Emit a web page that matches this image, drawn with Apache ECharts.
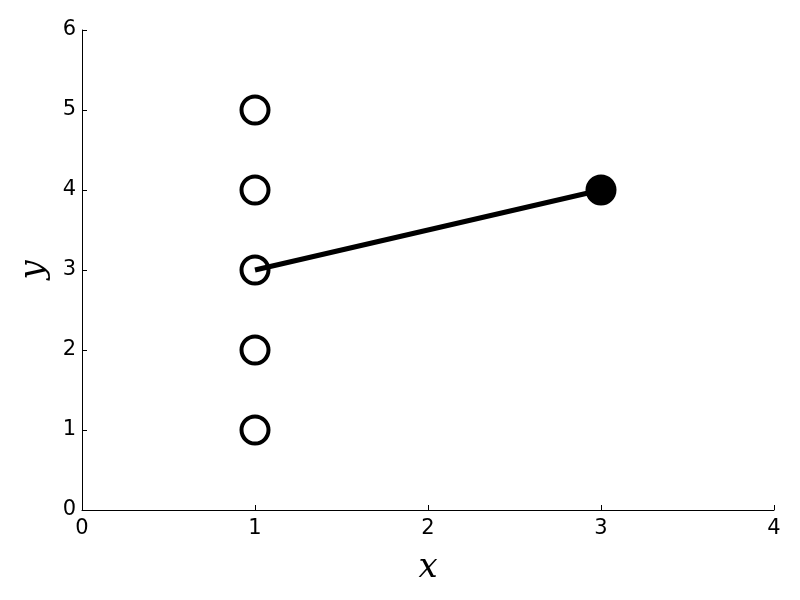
<!DOCTYPE html>
<html><head><meta charset="utf-8">
<script src="https://cdn.jsdelivr.net/npm/echarts@6/dist/echarts.min.js"></script>
<style>html,body{margin:0;padding:0;background:#fff}#c{width:800px;height:600px}</style>
</head><body><div id="c"></div>
<script>
var openX = [1, 1, 1, 1, 1];
var openY = [1, 2, 3, 4, 5];
var lineX = [1, 3];
var lineY = [3, 4];
var filledX = [3];
var filledY = [4];
var xTicks = [0, 1, 2, 3, 4];
var yTicks = [0, 1, 2, 3, 4, 5, 6];

function pairs(xs, ys) { return xs.map(function (x, i) { return [x, ys[i]]; }); }

var chart = echarts.init(document.getElementById('c'), null, {renderer: 'canvas'});
var axisCommon = {
  axisLine: {show: true, lineStyle: {color: '#000', width: 1}},
  axisTick: {show: true, inside: true, length: 5, lineStyle: {color: '#000'}},
  splitLine: {show: false},
  axisLabel: {color: '#000', fontSize: 21, fontFamily: 'DejaVu Sans'},
  nameTextStyle: {color: '#000', fontSize: 34, fontStyle: 'italic', fontFamily: 'DejaVu Serif'}
};
chart.setOption({
  animation: false,
  grid: {left: 82, right: 26, top: 30, bottom: 90, containLabel: false, outerBoundsMode: 'none'},
  xAxis: Object.assign({}, axisCommon, {
    type: 'value', min: xTicks[0], max: xTicks[xTicks.length - 1], interval: 1,
    name: 'x', nameLocation: 'middle', nameGap: 41,
    axisLabel: Object.assign({}, axisCommon.axisLabel, {margin: 8})
  }),
  yAxis: Object.assign({}, axisCommon, {
    type: 'value', min: yTicks[0], max: yTicks[yTicks.length - 1], interval: 1,
    name: 'y', nameLocation: 'middle', nameGap: 31, nameRotate: 90,
    axisLabel: Object.assign({}, axisCommon.axisLabel, {margin: 6})
  }),
  series: [
    {type: 'scatter', data: pairs(openX, openY), symbol: 'circle', symbolSize: 27,
     itemStyle: {color: '#fff', borderColor: '#000', borderWidth: 4, opacity: 1}, z: 2},
    {type: 'line', data: pairs(lineX, lineY), showSymbol: false, symbol: 'none',
     lineStyle: {color: '#000', width: 5}, z: 3},
    {type: 'scatter', data: pairs(filledX, filledY), symbol: 'circle', symbolSize: 31,
     itemStyle: {color: '#000', opacity: 1}, z: 4}
  ]
});
</script></body></html>
